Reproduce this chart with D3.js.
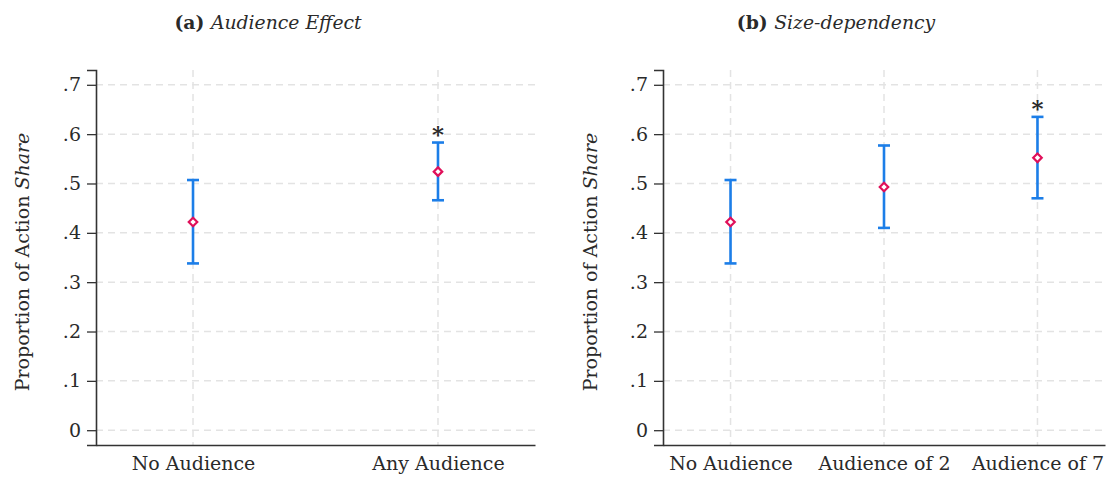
<!DOCTYPE html>
<html>
<head>
<meta charset="utf-8">
<script src="https://cdn.jsdelivr.net/npm/d3@7"></script>
<style>
  body { margin: 0; background: #fff; }
  svg text { font-family: "DejaVu Serif", "Liberation Serif", "Times New Roman", serif !important; fill: #2a2a2a; }
</style>
</head>
<body>
<svg id="chart" width="1109" height="478"></svg>
<script>
// ******** Data ********
var yTicks = [0, 0.1, 0.2, 0.3, 0.4, 0.5, 0.6, 0.7];

var catsA = ["No Audience", "Any Audience"];
var meanA = [0.422, 0.524];
var lowA  = [0.338, 0.466];
var highA = [0.507, 0.583];
var starA = [false, true];

var catsB = ["No Audience", "Audience of 2", "Audience of 7"];
var meanB = [0.422, 0.493, 0.552];
var lowB  = [0.338, 0.410, 0.470];
var highB = [0.507, 0.577, 0.635];
var starB = [false, false, true];

var svg = d3.select("#chart");
var fontSize = 19;

// ******** one panel ********
function drawPanel(opts) {
  var cats = opts.cats;
  var rows = cats.map((c, i) => ({
    cat: c, x: i + 1, mean: opts.mean[i], low: opts.low[i], high: opts.high[i], star: opts.star[i]
  }));

  var x = d3.scaleLinear()
    .domain([0.5 + opts.pad, cats.length + 0.5 - opts.pad])
    .range([opts.left, opts.right]);

  var y = d3.scaleLinear()
    .domain([-0.03, 0.73])
    .range([445, 70]);

  var g = svg.append("g");

  // grid
  g.selectAll(".hgrid")
    .data(yTicks)
    .enter()
    .append("line")
      .attr("x1", opts.left).attr("x2", opts.right)
      .attr("y1", d => y(d)).attr("y2", d => y(d))
      .attr("stroke", "#e3e3e3").attr("stroke-width", 1.5)
      .attr("stroke-dasharray", "7,5");

  g.selectAll(".vgrid")
    .data(rows)
    .enter()
    .append("line")
      .attr("x1", d => x(d.x)).attr("x2", d => x(d.x))
      .attr("y1", 70).attr("y2", 445)
      .attr("stroke", "#e3e3e3").attr("stroke-width", 1.5)
      .attr("stroke-dasharray", "7,5");

  // y axis
  var yAxis = g.append("g")
    .attr("transform", "translate(" + opts.left + ",0)")
    .call(d3.axisLeft(y)
      .tickValues(yTicks)
      .tickSize(9)
      .tickPadding(6)
      .tickFormat(d => d === 0 ? "0" : d3.format(".1f")(d).replace("0.", ".")));
  yAxis.select(".domain").attr("stroke", "#333").attr("stroke-width", 1.6);
  yAxis.selectAll(".tick line").attr("stroke", "#333").attr("stroke-width", 1.3);
  yAxis.selectAll(".tick text").attr("font-size", fontSize);

  // x axis
  var xAxis = g.append("g")
    .attr("transform", "translate(0,445)")
    .call(d3.axisBottom(x)
      .tickValues(rows.map(d => d.x))
      .tickSize(0)
      .tickSizeOuter(0)
      .tickPadding(12)
      .tickFormat((d, i) => cats[i]));
  xAxis.select(".domain").attr("stroke", "#333").attr("stroke-width", 1.6);
  xAxis.selectAll(".tick text").attr("font-size", fontSize);

  // error bars
  var bars = g.selectAll(".bar")
    .data(rows)
    .enter()
    .append("g");

  bars.append("line")
    .attr("x1", d => x(d.x)).attr("x2", d => x(d.x))
    .attr("y1", d => y(d.low)).attr("y2", d => y(d.high))
    .attr("stroke", "#1c7ee8").attr("stroke-width", 2.6);

  bars.selectAll(".cap")
    .data(d => [d.low, d.high].map(v => ({x: d.x, v: v})))
    .enter()
    .append("line")
      .attr("x1", d => x(d.x) - 6).attr("x2", d => x(d.x) + 6)
      .attr("y1", d => y(d.v)).attr("y2", d => y(d.v))
      .attr("stroke", "#1c7ee8").attr("stroke-width", 2.6);

  bars.append("path")
    .attr("d", d3.symbol().type(d3.symbolDiamond2).size(46))
    .attr("transform", d => "translate(" + x(d.x) + "," + y(d.mean) + ")")
    .attr("fill", "#fff")
    .attr("stroke", "#e0105a")
    .attr("stroke-width", 2.2);

  bars.filter(d => d.star)
    .append("text")
      .attr("x", d => x(d.x))
      .attr("y", d => y(d.high) - 1)
      .attr("text-anchor", "middle")
      .attr("font-size", 23)
      .attr("font-weight", "bold")
      .text("*");

  // y label
  var yl = svg.append("text")
    .attr("transform", "translate(" + opts.ylabX + ",262) rotate(-90)")
    .attr("text-anchor", "middle")
    .attr("font-size", 19);
  yl.append("tspan").text("Proportion of Action ");
  yl.append("tspan").attr("font-style", "italic").text("Share");

  // title
  var t = svg.append("text")
    .attr("x", opts.titleX)
    .attr("y", 29)
    .attr("text-anchor", "middle")
    .attr("font-size", 18.8);
  t.append("tspan").attr("font-weight", "bold").text(opts.tag + " ");
  t.append("tspan").attr("font-style", "italic").text(opts.title);
}

drawPanel({
  cats: catsA, mean: meanA, low: lowA, high: highA, star: starA,
  left: 96, right: 535, pad: 0.104,
  ylabX: 29, titleX: 268, tag: "(a)", title: "Audience Effect"
});

drawPanel({
  cats: catsB, mean: meanB, low: lowB, high: highB, star: starB,
  left: 663, right: 1105, pad: 0.06,
  ylabX: 597, titleX: 836, tag: "(b)", title: "Size-dependency"
});
</script>
</body>
</html>
